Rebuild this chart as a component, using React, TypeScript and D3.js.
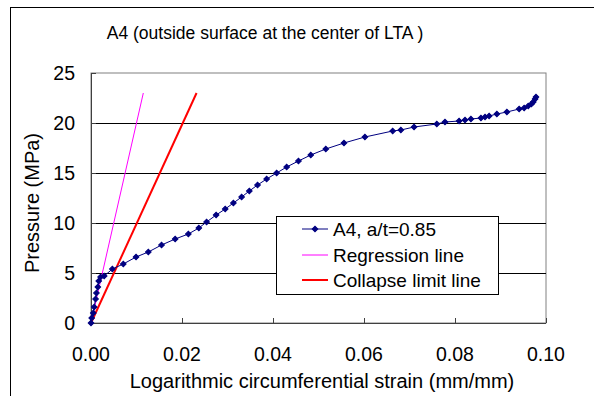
import React from "react";
import * as d3 from "d3";

// Measured strain / pressure pairs for gauge A4
const strainA4 = [
  0, 0.00015, 0.0005, 0.0007, 0.001, 0.0012, 0.0015, 0.0017, 0.0021, 0.0029,
  0.0047, 0.0071, 0.0099, 0.0126, 0.0155, 0.0185, 0.0214, 0.0237, 0.0254, 0.0275,
  0.0295, 0.0313, 0.0331, 0.0348, 0.0366, 0.0386, 0.0408, 0.043, 0.0456, 0.0483,
  0.0516, 0.0556, 0.0602, 0.0663, 0.0681, 0.071, 0.076, 0.0778, 0.0809, 0.0822,
  0.0835, 0.0857, 0.0866, 0.0875, 0.0892, 0.0914, 0.0941, 0.0952, 0.0961, 0.0968,
  0.0972, 0.0976, 0.0978,
];
const pressureA4 = [
  0, 0.5, 1.0, 1.6, 2.4, 3.0, 3.6, 4.2, 4.6, 4.7,
  5.4, 5.9, 6.6, 7.1, 7.8, 8.4, 8.9, 9.5, 10.1, 10.8,
  11.4, 12.0, 12.6, 13.2, 13.8, 14.4, 15.0, 15.6, 16.2, 16.8,
  17.4, 18.0, 18.6, 19.2, 19.3, 19.6, 19.9, 20.1, 20.2, 20.3,
  20.4, 20.5, 20.6, 20.7, 20.9, 21.1, 21.4, 21.5, 21.7, 21.9,
  22.1, 22.4, 22.6,
];

// Straight reference lines (start and end points)
const regressionStrain = [0, 0.0115];
const regressionPressure = [0, 23];
const collapseStrain = [0, 0.0232];
const collapsePressure = [0, 23];

const xTicks = [0, 0.02, 0.04, 0.06, 0.08, 0.1];
const yTicks = [0, 5, 10, 15, 20, 25];
const gridValues = [5, 10, 15, 20];

const legendLabels = ["A4, a/t=0.85", "Regression line", "Collapse limit line"];

const W = 594;
const H = 396;
const plot = { left: 91, right: 546, top: 73, bottom: 323 };
const font = "'Liberation Sans', Arial, sans-serif";

export default function App() {
  const x = d3.scaleLinear().domain([0, 0.1]).range([plot.left, plot.right]);
  const y = d3.scaleLinear().domain([0, 25]).range([plot.bottom, plot.top]);

  const pts: [number, number][] = strainA4.map((s, i) => [s, pressureA4[i]]);
  const line = d3
    .line<[number, number]>()
    .x((d) => x(d[0]))
    .y((d) => y(d[1]));
  const regPts: [number, number][] = regressionStrain.map((s, i) => [s, regressionPressure[i]]);
  const colPts: [number, number][] = collapseStrain.map((s, i) => [s, collapsePressure[i]]);

  // square marker, turned 45° to make a diamond
  const marker = d3.symbol().type(d3.symbolSquare).size(16)() as string;

  const leg = { x: 276, y: 216, w: 222, h: 78 };
  const rowY = [229, 255, 280];
  const legendColors = ["#000080", "#ff00ff", "#ff0000"];
  const legendWidths = [1, 1, 2];

  return (
    <svg
      width={W}
      height={H}
      style={{ position: "absolute", left: 0, top: 0, background: "#fff" }}
      fontFamily={font}
    >
      <rect x={0} y={0} width={W} height={H} fill="#fff" />
      {/* chart frame */}
      <rect x={10.5} y={7.5} width={620} height={420} fill="none" stroke="#000" strokeWidth={1} />

      <text x={265} y={39} fontSize={17.5} textAnchor="middle" fill="#000">
        A4 (outside surface at the center of LTA )
      </text>

      {/* plot area border */}
      <rect
        x={plot.left}
        y={plot.top}
        width={plot.right - plot.left}
        height={plot.bottom - plot.top}
        fill="none"
        stroke="#808080"
        strokeWidth={1}
      />
      {gridValues.map((v) => (
        <line key={v} x1={plot.left} x2={plot.right} y1={Math.round(y(v)) + 0.5} y2={Math.round(y(v)) + 0.5} stroke="#000" strokeWidth={1} />
      ))}

      {/* axes */}
      <line x1={plot.left + 0.5} x2={plot.left + 0.5} y1={plot.top} y2={plot.bottom} stroke="#404040" />
      <line x1={plot.left} x2={plot.right} y1={plot.bottom + 0.5} y2={plot.bottom + 0.5} stroke="#404040" />
      {xTicks.map((t) => (
        <g key={t}>
          <line x1={Math.round(x(t)) + 0.5} x2={Math.round(x(t)) + 0.5} y1={plot.bottom - 5} y2={plot.bottom} stroke="#404040" />
          <text x={x(t)} y={361} fontSize={19.5} textAnchor="middle" fill="#000">
            {d3.format(".2f")(t)}
          </text>
        </g>
      ))}
      {yTicks.map((t) => (
        <g key={t}>
          <line x1={plot.left} x2={plot.left + 5} y1={Math.round(y(t)) + 0.5} y2={Math.round(y(t)) + 0.5} stroke="#404040" />
          <text x={75} y={y(t) + 7} fontSize={19.5} textAnchor="end" fill="#000">
            {t}
          </text>
        </g>
      ))}

      <text x={322} y={388} fontSize={20} textAnchor="middle" fill="#000">
        Logarithmic circumferential strain (mm/mm)
      </text>
      <text
        transform={`translate(39,${(plot.top + plot.bottom) / 2 + 5}) rotate(-90)`}
        fontSize={20}
        textAnchor="middle"
        fill="#000"
      >
        Pressure (MPa)
      </text>

      {/* reference lines */}
      <path d={line(regPts) as string} fill="none" stroke="#ff00ff" strokeWidth={1} />
      <path d={line(colPts) as string} fill="none" stroke="#ff0000" strokeWidth={2} />

      {/* measured curve */}
      <path d={line(pts) as string} fill="none" stroke="#000080" strokeWidth={1} />
      {pts.map((d, i) => (
        <path
          key={i}
          d={marker}
          transform={`translate(${x(d[0])},${y(d[1])}) rotate(45)`}
          fill="#000080"
          stroke="#000080"
          strokeWidth={1}
        />
      ))}

      {/* legend */}
      <rect x={leg.x + 0.5} y={leg.y + 0.5} width={leg.w} height={leg.h} fill="#fff" stroke="#000" strokeWidth={1} />
      {legendLabels.map((lab, i) => (
        <g key={lab}>
          <line x1={302} x2={328} y1={rowY[i]} y2={rowY[i]} stroke={legendColors[i]} strokeWidth={legendWidths[i]} />
          {i === 0 && (
            <path d={marker} transform={`translate(315,${rowY[i]}) rotate(45)`} fill="#000080" stroke="#000080" />
          )}
          <text x={333} y={rowY[i] + 6.5} fontSize={19} fill="#000">
            {lab}
          </text>
        </g>
      ))}
    </svg>
  );
}
